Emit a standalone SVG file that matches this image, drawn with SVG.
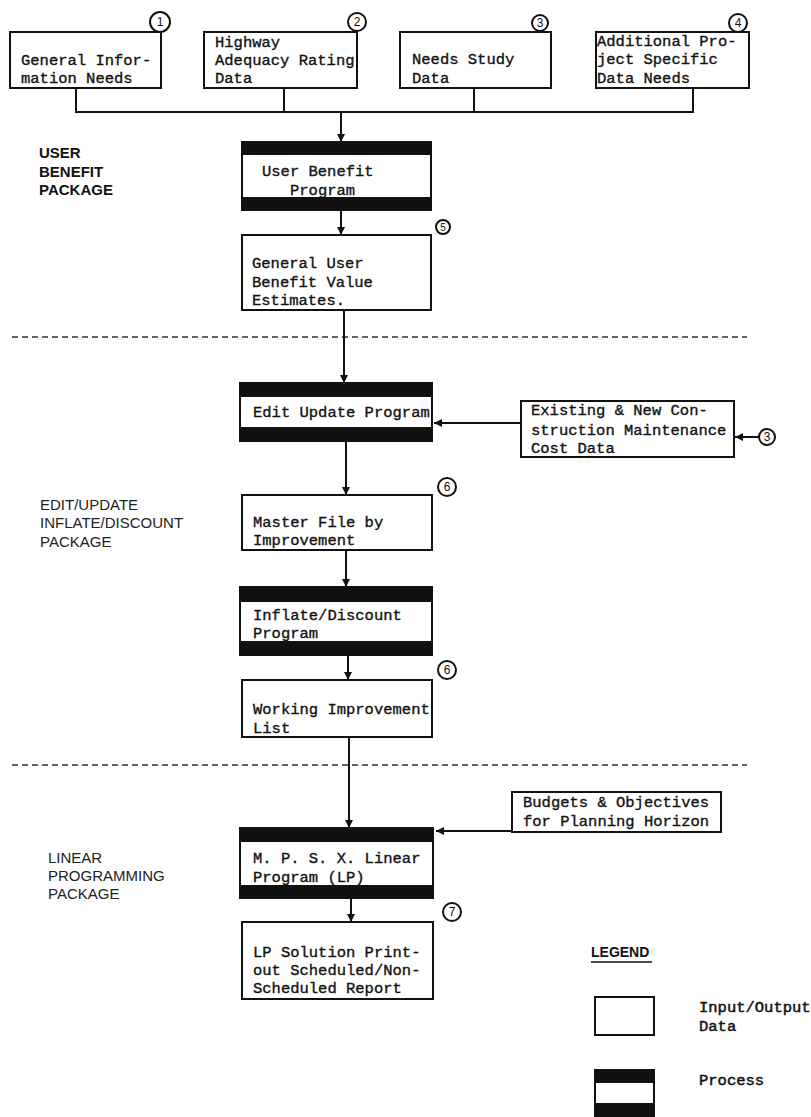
<svg xmlns="http://www.w3.org/2000/svg" width="811" height="1117" viewBox="0 0 811 1117">
<style>
.io{fill:#fff;stroke:#111;stroke-width:2}
.bar{fill:#111}
.t{font-family:"Liberation Mono",monospace;font-size:15.5px;fill:#111;stroke:#111;stroke-width:0.35}
.lg{font-family:"Liberation Mono",monospace;font-size:15.5px;fill:#111;stroke:#111;stroke-width:0.5}
.lb{font-family:"Liberation Sans",sans-serif;font-size:15px;fill:#222}
.lbb{font-family:"Liberation Sans",sans-serif;font-size:15px;font-weight:bold;fill:#111}
.c{fill:#fff;stroke:#111;stroke-width:2}
.cn{font-family:"Liberation Sans",sans-serif;font-size:12px;fill:#111;text-anchor:middle}
.ln{fill:none;stroke:#111;stroke-width:2}
.dash{fill:none;stroke:#333;stroke-width:1.6;stroke-dasharray:6 4}
</style>
<defs>
<marker id="ah" markerWidth="10" markerHeight="10" refX="8" refY="5" orient="auto" markerUnits="userSpaceOnUse">
<path d="M0,1 L8,5 L0,9 Z" fill="#111"/>
</marker>
</defs>
<rect width="811" height="1117" fill="#fff"/>

<g id="labels">
<text class="lbb" x="39" y="158">USER</text>
<text class="lbb" x="39" y="177">BENEFIT</text>
<text class="lbb" x="39" y="195">PACKAGE</text>
<text class="lb" x="40" y="510">EDIT/UPDATE</text>
<text class="lb" x="40" y="528">INFLATE/DISCOUNT</text>
<text class="lb" x="40" y="547">PACKAGE</text>
<text class="lb" x="48" y="863">LINEAR</text>
<text class="lb" x="48" y="881">PROGRAMMING</text>
<text class="lb" x="48" y="899">PACKAGE</text>
</g>

<g id="separators">
<line class="dash" x1="12" y1="337" x2="747" y2="337"/>
<line class="dash" x1="12" y1="765" x2="747" y2="765"/>
</g>

<g id="connectors">
<path class="ln" d="M76,88 V112 H693 V88 M284,88 V112 M474,88 V112"/>
<line class="ln" x1="341" y1="112" x2="341" y2="142" marker-end="url(#ah)"/>
<line class="ln" x1="341" y1="210" x2="341" y2="235" marker-end="url(#ah)"/>
<line class="ln" x1="344" y1="310" x2="344" y2="383" marker-end="url(#ah)"/>
<line class="ln" x1="521" y1="423" x2="434" y2="423" marker-end="url(#ah)"/>
<line class="ln" x1="759" y1="437" x2="735" y2="437" marker-end="url(#ah)"/>
<line class="ln" x1="346" y1="441" x2="346" y2="495" marker-end="url(#ah)"/>
<line class="ln" x1="346" y1="550" x2="346" y2="587" marker-end="url(#ah)"/>
<line class="ln" x1="348" y1="655" x2="348" y2="680" marker-end="url(#ah)"/>
<line class="ln" x1="349" y1="737" x2="349" y2="828" marker-end="url(#ah)"/>
<line class="ln" x1="512" y1="831" x2="436" y2="831" marker-end="url(#ah)"/>
<line class="ln" x1="351" y1="898" x2="351" y2="922" marker-end="url(#ah)"/>
</g>

<g id="n1">
<rect class="io" x="10" y="32" width="151" height="56"/>
<text class="t" x="21" y="65">General Infor-</text>
<text class="t" x="21" y="83">mation Needs</text>
<circle class="c" cx="160" cy="22" r="10"/><text class="cn" x="160" y="26">1</text>
</g>
<g id="n2">
<rect class="io" x="204" y="32" width="153" height="56"/>
<text class="t" x="215" y="47">Highway</text>
<text class="t" x="215" y="65">Adequacy Rating</text>
<text class="t" x="215" y="83">Data</text>
<circle class="c" cx="357" cy="22" r="9"/><text class="cn" x="357" y="26">2</text>
</g>
<g id="n3">
<rect class="io" x="400" y="32" width="151" height="56"/>
<text class="t" x="412" y="64">Needs Study</text>
<text class="t" x="412" y="83">Data</text>
<circle class="c" cx="540" cy="23" r="8"/><text class="cn" x="540" y="27">3</text>
</g>
<g id="n4">
<rect class="io" x="596" y="32" width="153" height="56"/>
<text class="t" x="597" y="46">Additional Pro-</text>
<text class="t" x="597" y="64">ject Specific</text>
<text class="t" x="597" y="83">Data Needs</text>
<circle class="c" cx="738" cy="23" r="9"/><text class="cn" x="738" y="27">4</text>
</g>

<g id="ubp">
<rect class="io" x="242" y="142" width="189" height="68"/>
<rect class="bar" x="242" y="142" width="189" height="13"/>
<rect class="bar" x="242" y="197" width="189" height="13"/>
<text class="t" x="262" y="176">User Benefit</text>
<text class="t" x="290" y="195">Program</text>
</g>

<g id="n5">
<rect class="io" x="242" y="235" width="189" height="75"/>
<text class="t" x="252" y="268">General User</text>
<text class="t" x="252" y="287">Benefit Value</text>
<text class="t" x="252" y="305">Estimates.</text>
<circle class="c" cx="443" cy="227" r="7"/><text class="cn" x="443" y="231" style="font-size:10px">5</text>
</g>

<g id="edit">
<rect class="io" x="240" y="383" width="192" height="58"/>
<rect class="bar" x="240" y="383" width="192" height="14"/>
<rect class="bar" x="240" y="427" width="192" height="14"/>
<text class="t" x="253" y="417">Edit Update Program</text>
</g>

<g id="cost">
<rect class="io" x="521" y="401" width="213" height="56"/>
<text class="t" x="531" y="415">Existing &amp; New Con-</text>
<text class="t" x="531" y="435">struction Maintenance</text>
<text class="t" x="531" y="453">Cost Data</text>
<circle class="c" cx="767" cy="437" r="8"/><text class="cn" x="767" y="441">3</text>
</g>

<g id="master">
<rect class="io" x="242" y="495" width="190" height="55"/>
<text class="t" x="253" y="527">Master File by</text>
<text class="t" x="253" y="545">Improvement</text>
<circle class="c" cx="447" cy="487" r="9"/><text class="cn" x="447" y="491">6</text>
</g>

<g id="inflate">
<rect class="io" x="240" y="587" width="192" height="68"/>
<rect class="bar" x="240" y="587" width="192" height="15"/>
<rect class="bar" x="240" y="641" width="192" height="14"/>
<text class="t" x="253" y="620">Inflate/Discount</text>
<text class="t" x="253" y="638">Program</text>
</g>

<g id="working">
<rect class="io" x="242" y="680" width="190" height="57"/>
<text class="t" x="253" y="714">Working Improvement</text>
<text class="t" x="253" y="733">List</text>
<circle class="c" cx="447" cy="670" r="9"/><text class="cn" x="447" y="674">6</text>
</g>

<g id="budgets">
<rect class="io" x="512" y="792" width="209" height="40"/>
<text class="t" x="523" y="807">Budgets &amp; Objectives</text>
<text class="t" x="523" y="826">for Planning Horizon</text>
</g>

<g id="mpsx">
<rect class="io" x="240" y="828" width="193" height="70"/>
<rect class="bar" x="240" y="828" width="193" height="14"/>
<rect class="bar" x="240" y="885" width="193" height="13"/>
<text class="t" x="253" y="863">M. P. S. X. Linear</text>
<text class="t" x="253" y="882">Program (LP)</text>
</g>

<g id="lp">
<rect class="io" x="242" y="922" width="191" height="77"/>
<text class="t" x="253" y="957">LP Solution Print-</text>
<text class="t" x="253" y="975">out Scheduled/Non-</text>
<text class="t" x="253" y="993">Scheduled Report</text>
<circle class="c" cx="452" cy="912" r="9"/><text class="cn" x="452" y="916">7</text>
</g>

<g id="legend">
<text class="lbb" x="591" y="957" style="font-size:14px">LEGEND</text>
<line x1="591" y1="962" x2="652" y2="962" stroke="#111" stroke-width="1.5"/>
<rect class="io" x="595" y="997" width="59" height="38"/>
<text class="lg" x="699" y="1012">Input/Output</text>
<text class="lg" x="699" y="1031">Data</text>
<rect class="io" x="595" y="1070" width="59" height="46"/>
<rect class="bar" x="595" y="1070" width="59" height="13"/>
<rect class="bar" x="595" y="1103" width="59" height="14"/>
<text class="lg" x="699" y="1085">Process</text>
</g>
</svg>
